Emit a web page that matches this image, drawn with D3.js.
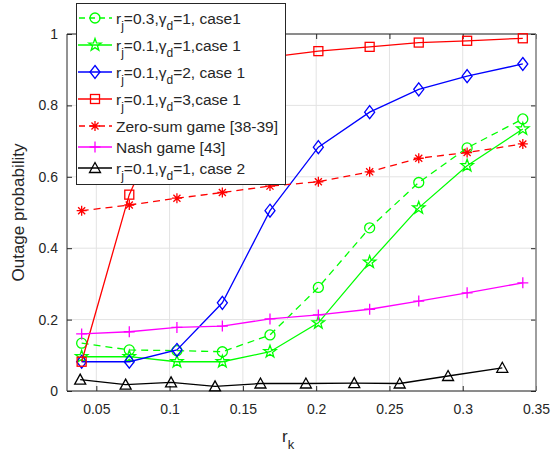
<!DOCTYPE html>
<html><head><meta charset="utf-8">
<script src="https://cdn.jsdelivr.net/npm/d3@7"></script>
<style>body{margin:0;background:#fff}svg{display:block;font-family:"Liberation Sans",Arial,Helvetica,sans-serif}</style>
</head><body><svg id="c" width="553" height="455"></svg>
<script>
// ---- data ----
const xCase1 = [0.04, 0.0725, 0.105, 0.136, 0.1685, 0.2015, 0.2365, 0.27, 0.303, 0.341];
const xCase2 = [0.039, 0.07, 0.101, 0.131, 0.162, 0.193, 0.226, 0.257, 0.29, 0.327];
const yGreenCircle = [0.134, 0.115, 0.113, 0.110, 0.157, 0.290, 0.457, 0.584, 0.681, 0.762];
const yGreenStar   = [0.096, 0.096, 0.082, 0.082, 0.110, 0.191, 0.361, 0.513, 0.631, 0.734];
const yBlue        = [0.082, 0.082, 0.115, 0.247, 0.505, 0.683, 0.781, 0.845, 0.882, 0.916];
const yRed         = [0.082, 0.550, 0.850, 0.910, 0.935, 0.952, 0.964, 0.976, 0.981, 0.988];
const yZeroSum     = [0.505, 0.521, 0.540, 0.556, 0.574, 0.586, 0.614, 0.652, 0.668, 0.692];
const yNash        = [0.160, 0.166, 0.178, 0.182, 0.202, 0.213, 0.229, 0.252, 0.275, 0.303];
const yCase2       = [0.032, 0.018, 0.024, 0.013, 0.021, 0.021, 0.022, 0.021, 0.042, 0.065];
const xTicks = [0.05, 0.1, 0.15, 0.2, 0.25, 0.3, 0.35];
const xTickLabels = ["0.05", "0.1", "0.15", "0.2", "0.25", "0.3", "0.35"];
const yTicks = [0, 0.2, 0.4, 0.6, 0.8, 1];
const yTickLabels = ["0", "0.2", "0.4", "0.6", "0.8", "1"];
const legendLabels = [
  [["r",""],["j","sub"],["=0.3,γ",""],["d","sub"],["=1, case1",""]],
  [["r",""],["j","sub"],["=0.1,γ",""],["d","sub"],["=1,case 1",""]],
  [["r",""],["j","sub"],["=0.1,γ",""],["d","sub"],["=2, case 1",""]],
  [["r",""],["j","sub"],["=0.1,γ",""],["d","sub"],["=3,case 1",""]],
  [["Zero-sum game [38-39]",""]],
  [["Nash game [43]",""]],
  [["r",""],["j","sub"],["=0.1,γ",""],["d","sub"],["=1, case 2",""]]
];

const series = [
  {x:xCase1, y:yGreenCircle, color:"#00ff00", dash:"7,5", marker:"circle"},
  {x:xCase1, y:yGreenStar,   color:"#00ff00", dash:null,  marker:"pentagram"},
  {x:xCase1, y:yBlue,        color:"#0000ff", dash:null,  marker:"diamond"},
  {x:xCase1, y:yRed,         color:"#ff0000", dash:null,  marker:"square"},
  {x:xCase1, y:yZeroSum,     color:"#ff0000", dash:"7,5", marker:"asterisk"},
  {x:xCase1, y:yNash,        color:"#ff00ff", dash:null,  marker:"plus"},
  {x:xCase2, y:yCase2,       color:"#000000", dash:null,  marker:"triangle"}
];

// ---- layout ----
const svg = d3.select("#c");
const L = 67, R = 536, T = 34, B = 391;
const xs = d3.scaleLinear().domain([0.03, 0.35]).range([L, R]);
const ys = d3.scaleLinear().domain([0, 1]).range([B, T]);
const axisCol = "#262626";

// grid
const g = svg.append("g");
g.selectAll(".gx").data(xTicks).enter().append("line")
  .attr("x1", d => xs(d)).attr("x2", d => xs(d)).attr("y1", T).attr("y2", B)
  .attr("stroke", "#e3e3e3").attr("stroke-width", 1);
g.selectAll(".gy").data(yTicks).enter().append("line")
  .attr("y1", d => ys(d)).attr("y2", d => ys(d)).attr("x1", L).attr("x2", R)
  .attr("stroke", "#e3e3e3").attr("stroke-width", 1);

// axes via d3 axis
const xAxis = d3.axisBottom(xs).tickValues(xTicks).tickFormat((d,i)=>xTickLabels[i]).tickSizeInner(-5).tickSizeOuter(0).tickPadding(12);
const yAxis = d3.axisLeft(ys).tickValues(yTicks).tickFormat((d,i)=>yTickLabels[i]).tickSizeInner(-5).tickSizeOuter(0).tickPadding(12);
const gx = svg.append("g").attr("transform", `translate(0,${B})`).call(xAxis);
const gy = svg.append("g").attr("transform", `translate(${L},0)`).call(yAxis);
[gx, gy].forEach(a => {
  a.select(".domain").remove();
  a.selectAll("line").attr("stroke", axisCol);
  a.selectAll("text").attr("fill", axisCol).attr("font-size", 14).attr("font-family", "Liberation Sans, Arial, sans-serif");
});
gx.selectAll("text").attr("dy", "0.71em").attr("y", 13);
gy.selectAll("text").attr("x", -9);
// top / right ticks
const gt = svg.append("g").attr("transform", `translate(0,${T})`).call(d3.axisTop(xs).tickValues(xTicks).tickFormat("").tickSizeInner(-5).tickSizeOuter(0));
const gr = svg.append("g").attr("transform", `translate(${R},0)`).call(d3.axisRight(ys).tickValues(yTicks).tickFormat("").tickSizeInner(-5).tickSizeOuter(0));
[gt, gr].forEach(a => { a.select(".domain").remove(); a.selectAll("line").attr("stroke", axisCol); });

// box
svg.append("line").attr("x1", L).attr("x2", R).attr("y1", T).attr("y2", T).attr("stroke", axisCol);
svg.append("line").attr("x1", R).attr("x2", R).attr("y1", T).attr("y2", B).attr("stroke", "#8a8a8a").attr("stroke-width", 1.6);
svg.append("line").attr("x1", L).attr("x2", R).attr("y1", B).attr("y2", B).attr("stroke", axisCol);
svg.append("line").attr("x1", L).attr("x2", L).attr("y1", T).attr("y2", B).attr("stroke", axisCol);

// markers
function drawMarker(sel, type, color) {
  const sw = 1.3;
  if (type === "circle") {
    sel.append("circle").attr("r", 5).attr("fill", "none").attr("stroke", color).attr("stroke-width", sw);
  } else if (type === "pentagram") {
    const pts = [];
    for (let i = 0; i < 10; i++) {
      const r = i % 2 === 0 ? 6.5 : 2.6;
      const a = -Math.PI/2 + i*Math.PI/5;
      pts.push([r*Math.cos(a), r*Math.sin(a)]);
    }
    sel.append("path").attr("d", "M" + pts.join("L") + "Z").attr("fill", "none").attr("stroke", color).attr("stroke-width", sw);
  } else if (type === "diamond") {
    sel.append("path").attr("d", "M0,-6.5L5,0L0,6.5L-5,0Z").attr("fill", "none").attr("stroke", color).attr("stroke-width", sw);
  } else if (type === "square") {
    sel.append("rect").attr("x", -4.5).attr("y", -4.5).attr("width", 9).attr("height", 9).attr("fill", "none").attr("stroke", color).attr("stroke-width", sw);
  } else if (type === "asterisk") {
    const r = 5, q = r*0.7071;
    sel.append("path").attr("d", `M${-r},0L${r},0M0,${-r}L0,${r}M${-q},${-q}L${q},${q}M${-q},${q}L${q},${-q}`).attr("stroke", color).attr("stroke-width", sw);
  } else if (type === "plus") {
    const r = 5.5;
    sel.append("path").attr("d", `M${-r},0L${r},0M0,${-r}L0,${r}`).attr("stroke", color).attr("stroke-width", sw);
  } else if (type === "triangle") {
    sel.append("path").attr("d", "M0,-5.5L5.5,4.5L-5.5,4.5Z").attr("fill", "none").attr("stroke", color).attr("stroke-width", sw);
  }
}

const line = d3.line().x(d => xs(d[0])).y(d => ys(d[1]));
series.forEach(s => {
  const pts = s.x.map((x, i) => [x, s.y[i]]);
  svg.append("path").attr("d", line(pts)).attr("fill", "none").attr("stroke", s.color)
    .attr("stroke-width", 1.3).attr("stroke-dasharray", s.dash);
  pts.forEach(p => {
    const m = svg.append("g").attr("transform", `translate(${xs(p[0])},${ys(p[1])})`);
    drawMarker(m, s.marker, s.color);
  });
});

// axis labels
svg.append("text").attr("transform", `translate(24,${(T+B)/2}) rotate(-90)`).attr("text-anchor", "middle")
  .attr("font-size", 17).attr("fill", axisCol).text("Outage probability");
const xl = svg.append("text").attr("x", 282).attr("y", 442).attr("font-size", 17).attr("fill", axisCol);
xl.append("tspan").text("r");
xl.append("tspan").attr("font-size", 13).attr("dy", 7).text("k");

// legend
const legY = [18, 45, 72, 99, 126, 147, 168];
const lg = svg.append("g");
lg.append("rect").attr("x", 76.5).attr("y", 3.5).attr("width", 209).attr("height", 181)
  .attr("fill", "#fff").attr("stroke", axisCol).attr("stroke-width", 1);
series.forEach((s, i) => {
  const yy = legY[i];
  lg.append("line").attr("x1", 78).attr("x2", 112).attr("y1", yy).attr("y2", yy)
    .attr("stroke", s.color).attr("stroke-width", 1.3).attr("stroke-dasharray", s.dash ? "6,4" : null)
    .attr("stroke-dashoffset", s.dash ? -1 : null);
  const m = lg.append("g").attr("transform", `translate(95,${yy})`);
  drawMarker(m, s.marker, s.color);
  const t = lg.append("text").attr("x", 116).attr("y", yy + 5.5).attr("font-size", 15.5).attr("fill", axisCol);
  let sub = false;
  legendLabels[i].forEach(([txt, kind]) => {
    const ts = t.append("tspan").text(txt);
    if (kind === "sub" && !sub) { ts.attr("font-size", 12).attr("dy", 6); sub = true; }
    else if (kind !== "sub" && sub) { ts.attr("dy", -6); sub = false; }
  });
});
</script>
</body></html>
